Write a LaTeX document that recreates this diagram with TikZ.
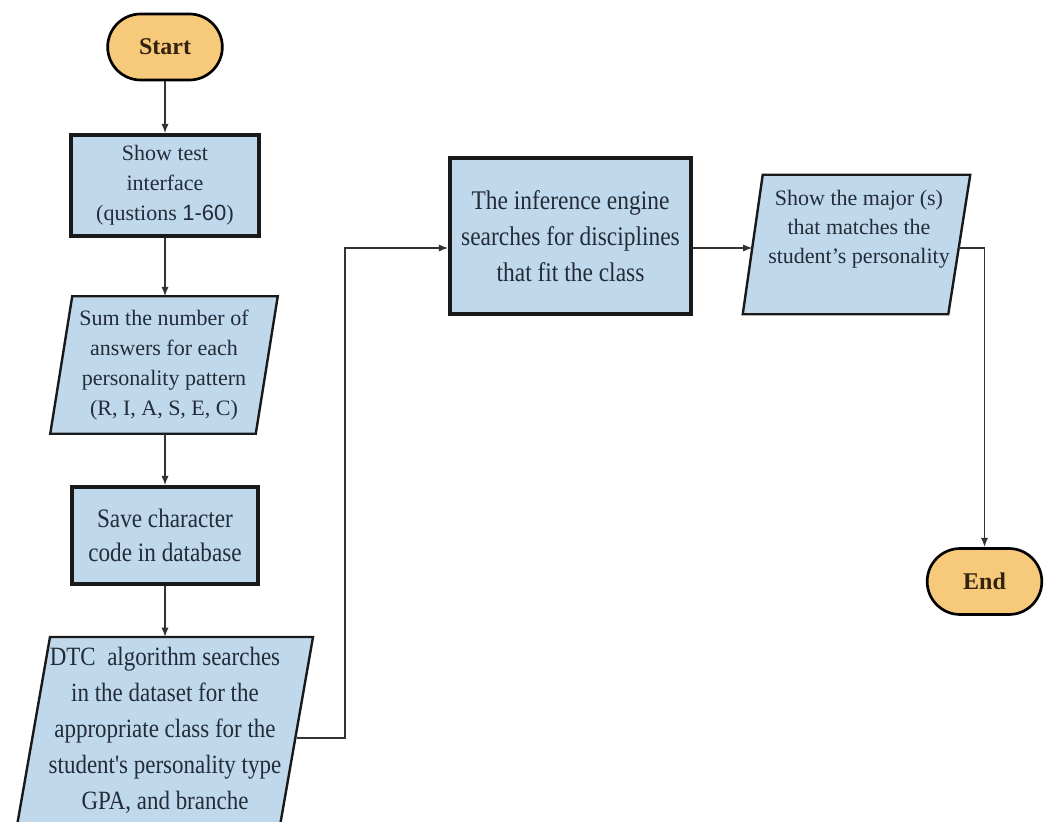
\documentclass[tikz,border=0pt]{standalone}
\usepackage{fontspec}
\setmainfont{Liberation Serif}
\newfontfamily\numfont{Liberation Sans}
\newfontfamily\condfont[FakeStretch=0.87]{Liberation Serif}
\usetikzlibrary{arrows.meta,calc,shapes.misc,backgrounds}
\definecolor{boxblue}{RGB}{192,216,236}
\definecolor{termorange}{RGB}{247,201,122}
\definecolor{txt}{RGB}{34,44,56}
\definecolor{termtxt}{RGB}{50,35,15}
\begin{document}
\begin{tikzpicture}[x=0.75pt,y=-0.75pt,
  terminal/.style={rounded rectangle, draw=black, line width=2pt, fill=termorange,
    minimum width=86pt, minimum height=49.5pt, inner sep=0pt,
    font=\fontsize{18}{20}\selectfont\bfseries, text=termtxt},
  procbox/.style={rectangle, draw=black!90, line width=2.6pt, fill=boxblue,
    inner sep=0pt, align=center, text=txt},
  paraarea/.style={rectangle, inner sep=0pt, align=center, text=txt},
  parashape/.style={draw=black!90, line width=1.8pt, fill=boxblue},
  conn/.style={draw=black!80, line width=1.3pt, -{Latex[length=7pt,width=5.5pt]}}
]
\useasboundingbox (0,0) rectangle (1045,821);

% terminals
\node[terminal] (start) at (165,47) {Start};
\node[terminal] (end) at (984.5,581.5) {End};

% process boxes
\node[procbox, minimum width=141pt, minimum height=75.75pt,
  font=\fontsize{16.5}{22.5}\selectfont] (b1) at (165,185.5)
  {Show test\\interface\\(qustions {\numfont 1-60})};
\node[procbox, minimum width=139.5pt, minimum height=72.75pt,
  font=\condfont\fontsize{20}{26}\selectfont] (b2) at (165,535.5)
  {Save character\\code in database};
\node[procbox, minimum width=180.75pt, minimum height=117pt,
  font=\condfont\fontsize{20.2}{27}\selectfont] (b3) at (570.5,236)
  {The inference engine\\searches for disciplines\\that fit the class};

% parallelogram 1
\node[paraarea, minimum width=170.25pt, minimum height=102.75pt,
  font=\fontsize{16.5}{22.5}\selectfont] (p1) at (164,365)
  {Sum the number of\\answers for each\\personality pattern\\(R, I, A, S, E, C)};
% parallelogram 2 (text area)
\node[paraarea, font=\condfont\fontsize{19.8}{27}\selectfont] (p2) at (165,730)
  {DTC\ \ algorithm searches\\in the dataset for the\\appropriate class for the\\student's personality type\\GPA, and branche};
\coordinate (p2top) at (165,637);
\coordinate (p2r) at (297,738);
% parallelogram 3
\node[paraarea, minimum width=170.25pt, minimum height=104.25pt] (p3) at (856.5,244.5) {};
\node[paraarea, font=\fontsize{16.5}{21.75}\selectfont] (t3) at (859,229)
  {Show the major (s)\\that matches the\\student’s personality};
\coordinate (p3l) at (752.5,248);
\coordinate (p3r) at (958.5,248);
\coordinate (bend) at (345,248);

\begin{scope}[on background layer]
  \clip (0,0) rectangle (1045,821);
  \draw[parashape] ($(p1.north west)+(22,0)$) -- (p1.north east)
    -- ($(p1.south east)+(-22,0)$) -- (p1.south west) -- cycle;
  \draw[parashape] (50,637) -- (313,637) -- (274,860) -- (11,860) -- cycle;
  \draw[parashape] ($(p3.north west)+(20,0)$) -- (p3.north east)
    -- ($(p3.south east)+(-22,0)$) -- (p3.south west) -- cycle;
\end{scope}

% connectors
\draw[conn] (start.south) -- (start.south |- b1.north);
\draw[conn] (b1.south) -- (b1.south |- p1.north);
\draw[conn] (p1.south -| b2.north) -- (b2.north);
\draw[conn] (b2.south) -- (p2top);
\draw[conn] (p2r) -| (bend) -- (b3.west |- bend);
\draw[conn] (b3.east |- bend) -- (p3l);
\draw[conn] (p3r) -| (end.north);
\end{tikzpicture}
\end{document}
